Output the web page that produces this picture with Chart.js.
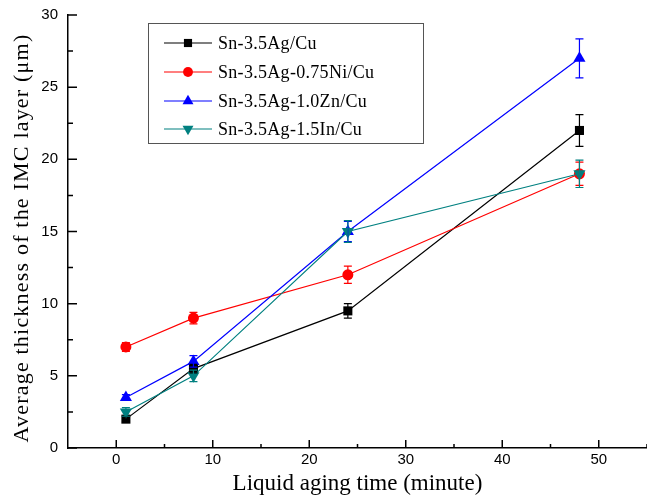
<!DOCTYPE html>
<html>
<head>
<meta charset="utf-8">
<script src="https://cdn.jsdelivr.net/npm/chart.js@4/dist/chart.umd.min.js"></script>
<style>
  html, body { margin: 0; padding: 0; background: #fff; }
  #wrap { width: 647px; height: 498px; }
</style>
</head>
<body>
<div id="wrap"><canvas id="imc"></canvas></div>
<script>
// aging time (minute)
const agingTime = [1, 8, 24, 48];
const seriesNames = ['Sn-3.5Ag/Cu', 'Sn-3.5Ag-0.75Ni/Cu', 'Sn-3.5Ag-1.0Zn/Cu', 'Sn-3.5Ag-1.5In/Cu'];
// IMC thickness (um) and error bars
const snAg   = [2.0, 5.5, 9.5, 22.0];
const snAgNi = [7.0, 9.0, 12.0, 19.0];
const snAgZn = [3.5, 6.0, 15.0, 27.0];
const snAgIn = [2.5, 5.0, 15.0, 19.0];
const snAgErr   = [0.2, 0.3, 0.5, 1.1];
const snAgNiErr = [0.3, 0.4, 0.6, 0.8];
const snAgZnErr = [0.2, 0.4, 0.7, 1.35];
const snAgInErr = [0.3, 0.4, 0.75, 0.95];
const xTicks = [0, 10, 20, 30, 40, 50];
const yTicks = [0, 5, 10, 15, 20, 25, 30];

const colors = ['#000000', '#ff0000', '#0000ff', '#008080'];
const styles = ['rect', 'circle', 'triangle', 'triangle'];
const rotations = [0, 0, 0, 180];
const radii = [6.4, 5.5, 7, 7];
const values = [snAg, snAgNi, snAgZn, snAgIn];
const errors = [snAgErr, snAgNiErr, snAgZnErr, snAgInErr];

function pts(arr){
    return arr.map((v, i) => ({x: agingTime[i], y: v}))
}

const datasets = values.map((v, i) => ({
    label: seriesNames[i],
    data: pts(v),
    borderColor: colors[i],
    backgroundColor: colors[i],
    borderWidth: 1.2,
    pointStyle: styles[i],
    rotation: rotations[i],
    pointRadius: radii[i],
    pointBorderWidth: 0,
    order: 4 - i,
    errs: errors[i]
}));

// error bars with caps
const errorBars = {
    id: 'errorBars',
    afterDatasetsDraw(chart){
        const ctx = chart.ctx, ys = chart.scales.y;
        chart.data.datasets.forEach((ds, i) => {
            const meta = chart.getDatasetMeta(i);
            ctx.save();
            ctx.strokeStyle = ds.borderColor;
            ctx.lineWidth = 1.2;
            meta.data.forEach((p, j) => {
                const v = ds.data[j].y, e = ds.errs[j];
                const top = ys.getPixelForValue(v + e), bot = ys.getPixelForValue(v - e);
                ctx.beginPath();
                ctx.moveTo(p.x, top); ctx.lineTo(p.x, bot);
                ctx.moveTo(p.x - 4, top); ctx.lineTo(p.x + 4, top);
                ctx.moveTo(p.x - 4, bot); ctx.lineTo(p.x + 4, bot);
                ctx.stroke();
            });
            ctx.restore();
        });
    }
};

// inward major/minor ticks + y title (letter-spaced)
const innerTicks = {
    id: 'innerTicks',
    afterDraw(chart){
        const ctx = chart.ctx, xs = chart.scales.x, ys = chart.scales.y;
        const a = chart.chartArea;
        ctx.save();
        ctx.strokeStyle = '#000';
        ctx.lineWidth = 1.5;
        ctx.beginPath();
        for (let v = 0; v <= 55; v += 5) {
            const px = xs.getPixelForValue(v);
            const len = v % 10 === 0 ? 8 : 4;
            ctx.moveTo(px, a.bottom); ctx.lineTo(px, a.bottom - len);
        }
        for (let v = 0; v <= 30; v += 2.5) {
            const py = ys.getPixelForValue(v);
            const len = v % 5 === 0 ? 9 : 5;
            ctx.moveTo(a.left, py); ctx.lineTo(a.left + len, py);
        }
        ctx.stroke();

        ctx.translate(22, 238);
        ctx.rotate(-Math.PI / 2);
        ctx.font = '22px "Liberation Serif", "Times New Roman", serif';
        ctx.letterSpacing = '1.2px';
        ctx.textAlign = 'center';
        ctx.textBaseline = 'middle';
        ctx.fillStyle = '#000';
        ctx.fillText('Average thickness of the IMC layer (μm)', 0, 0);
        ctx.restore();
    }
};

// boxed legend in the upper left
const boxLegend = {
    id: 'boxLegend',
    afterDraw(chart){
        const ctx = chart.ctx;
        ctx.save();
        ctx.strokeStyle = '#555';
        ctx.lineWidth = 1;
        ctx.strokeRect(148.5, 23.5, 275, 120);
        const rows = [43, 72, 101, 129];
        ctx.font = '18px "Liberation Serif", "Times New Roman", serif';
        ctx.letterSpacing = '0.3px';
        ctx.textBaseline = 'middle';
        chart.data.datasets.forEach((ds, i) => {
            const y = rows[i];
            ctx.strokeStyle = ds.borderColor;
            ctx.lineWidth = 1.2;
            ctx.beginPath();
            ctx.moveTo(164, y); ctx.lineTo(212, y);
            ctx.stroke();
            ctx.fillStyle = ds.backgroundColor;
            Chart.helpers.drawPoint(ctx, {pointStyle: ds.pointStyle, rotation: ds.rotation, radius: ds.pointRadius * 0.9, borderWidth: 0}, 188, y);
            ctx.fillStyle = '#000';
            ctx.fillText(ds.label, 218, y + 1);
        });
        ctx.restore();
    }
};

new Chart(document.getElementById('imc'), {
    type: 'line',
    data: { datasets: datasets },
    plugins: [errorBars, innerTicks, boxLegend],
    options: {
        responsive: true,
        maintainAspectRatio: false,
        animation: false,
        layout: { autoPadding: false, padding: { top: 15, right: 0, left: 0, bottom: 0 } },
        plugins: { legend: { display: false }, tooltip: { enabled: false } },
        scales: {
            x: {
                type: 'linear',
                min: -5, max: 55,
                afterBuildTicks: s => { s.ticks = xTicks.map(v => ({value: v})) },
                afterFit: s => { s.height = 50; s.paddingLeft = 0; s.paddingRight = 0 },
                grid: { display: false, drawTicks: false },
                border: { display: true, color: '#000', width: 1.5 },
                ticks: { color: '#000', padding: 3, maxRotation: 0,
                         font: { family: '"Liberation Sans", Arial, sans-serif', size: 15 } },
                title: { display: true, text: 'Liquid aging time (minute)', color: '#000',
                         padding: { top: 0, bottom: 0 },
                         font: { family: '"Liberation Serif", "Times New Roman", serif', size: 23 } }
            },
            y: {
                min: 0, max: 30,
                afterBuildTicks: s => { s.ticks = yTicks.map(v => ({value: v})) },
                afterFit: s => { s.width = 68; s.paddingTop = 0; s.paddingBottom = 0 },
                grid: { display: false, drawTicks: false },
                border: { display: true, color: '#000', width: 1.5 },
                ticks: { color: '#000', padding: 10,
                         font: { family: '"Liberation Sans", Arial, sans-serif', size: 15 } }
            }
        }
    }
});
</script>
</body>
</html>
